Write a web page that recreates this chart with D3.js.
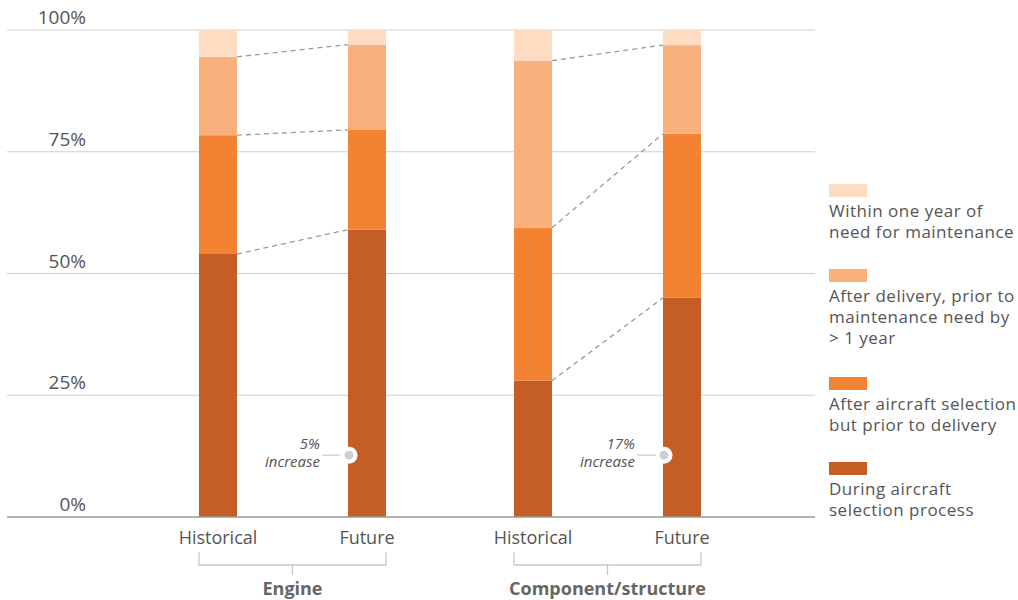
<!DOCTYPE html>
<html>
<head>
<meta charset="utf-8">
<script src="https://cdn.jsdelivr.net/npm/d3@7"></script>
<style>
  html, body { margin: 0; padding: 0; background: #fff; }
  svg { display: block; font-family: "Open Sans", "Noto Sans", sans-serif; }
</style>
</head>
<body>
<svg id="chart" width="1018" height="600"></svg>
<script>
// Timing of aftermarket purchase decisions, stacked shares (%)
const groups = ["Engine", "Component/structure"];
const periods = ["Historical", "Future"];
const seriesKeys = ["selection", "preDelivery", "afterDelivery", "withinYear"];
const seriesLabels = [
  ["During aircraft", "selection process"],
  ["After aircraft selection", "but prior to delivery"],
  ["After delivery, prior to", "maintenance need by", "> 1 year"],
  ["Within one year of", "need for maintenance"]
];
const seriesColors = ["#C45E24", "#F38233", "#F9B07D", "#FDDCC2"];

// one value per bar, in order: Engine Historical, Engine Future, Component Historical, Component Future
const selectionValues     = [54, 59, 28, 45];
const preDeliveryValues   = [24.4, 20.5, 31.4, 33.7];
const afterDeliveryValues = [16.1, 17.5, 34.3, 18.2];
const withinYearValues    = [5.5, 3.0, 6.3, 3.1];

const yTicks = [0, 25, 50, 75, 100];
const tickLabels = ["0%", "25%", "50%", "75%", "100%"];

const barRows = [];
groups.forEach((g, gi) => periods.forEach((p, pi) => {
  const i = gi * 2 + pi;
  barRows.push({
    group: g, period: p,
    selection: selectionValues[i],
    preDelivery: preDeliveryValues[i],
    afterDelivery: afterDeliveryValues[i],
    withinYear: withinYearValues[i]
  });
}));

const svg = d3.select("#chart");
const textColor = "#555";

const y = d3.scaleLinear().domain([0, 100]).range([517, 30]);
const xGroup = d3.scaleBand().domain(groups).range([135, 765]);
const xPeriod = d3.scalePoint().domain(periods).range([0, xGroup.bandwidth()]).padding(0.557);
const barW = 38;
const cx = d => xGroup(d.group) + xPeriod(d.period);

// gridlines
const gridLeft = 7, gridRight = 815;
svg.append("g").selectAll("line").data(yTicks.filter(t => t > 0)).join("line")
  .attr("x1", gridLeft).attr("x2", gridRight)
  .attr("y1", d => y(d)).attr("y2", d => y(d))
  .attr("stroke", "#cfcfcf").attr("stroke-width", 1);

// tick labels sit above their gridlines
svg.append("g").selectAll("text").data(yTicks).join("text")
  .attr("x", 86).attr("y", d => y(d) - 6)
  .attr("text-anchor", "end")
  .attr("font-size", 19).attr("fill", textColor)
  .text((d, i) => tickLabels[i]);

// stacked bars
const stack = d3.stack().keys(seriesKeys);
const stacked = stack(barRows);

svg.append("g").selectAll("g").data(stacked).join("g")
  .attr("fill", (d, i) => seriesColors[i])
  .selectAll("rect").data(d => d).join("rect")
  .attr("x", d => cx(d.data) - barW / 2)
  .attr("width", barW)
  .attr("y", d => y(d[1]))
  .attr("height", d => y(d[0]) - y(d[1]));

// dashed connectors between the segment boundaries of historical and future bars
const connectors = [];
groups.forEach(g => {
  const hi = barRows.findIndex(r => r.group === g && r.period === "Historical");
  const fi = barRows.findIndex(r => r.group === g && r.period === "Future");
  for (let s = 0; s < seriesKeys.length - 1; s++) {
    connectors.push({ h: barRows[hi], f: barRows[fi], hv: stacked[s][hi][1], fv: stacked[s][fi][1] });
  }
});
svg.append("g").selectAll("line").data(connectors).join("line")
  .attr("x1", d => cx(d.h) + barW / 2).attr("y1", d => y(d.hv))
  .attr("x2", d => cx(d.f) - barW / 2).attr("y2", d => y(d.fv))
  .attr("stroke", "#9a9a9a").attr("stroke-width", 1.3)
  .attr("stroke-dasharray", "5,4");

// baseline
svg.append("line")
  .attr("x1", gridLeft).attr("x2", gridRight)
  .attr("y1", y(0)).attr("y2", y(0))
  .attr("stroke", "#999").attr("stroke-width", 1.5);

// increase annotations on the future bars
const markerLevel = 12.7;
const annotations = groups.map(g => {
  const h = barRows.find(r => r.group === g && r.period === "Historical");
  const f = barRows.find(r => r.group === g && r.period === "Future");
  return { row: f, change: f.selection - h.selection };
});
const ann = svg.append("g").selectAll("g").data(annotations).join("g")
  .attr("transform", d => `translate(${cx(d.row) - barW / 2 + 1},${y(markerLevel)})`);
ann.append("line").attr("x1", -27).attr("x2", 0).attr("y1", 0).attr("y2", 0)
  .attr("stroke", "#cfcfcf").attr("stroke-width", 1.3);
ann.append("circle").attr("r", 8.5).attr("fill", "#fff");
ann.append("circle").attr("r", 4.5).attr("fill", "#cfcfcf");
const annText = ann.append("text")
  .attr("text-anchor", "end").attr("font-size", 15).attr("font-style", "italic")
  .attr("fill", textColor);
annText.append("tspan").attr("x", -29).attr("y", -6).text(d => `${d.change}%`);
annText.append("tspan").attr("x", -29).attr("y", 12).text("increase");

// period labels
svg.append("g").selectAll("text").data(barRows).join("text")
  .attr("x", d => cx(d)).attr("y", 544)
  .attr("text-anchor", "middle").attr("font-size", 18).attr("fill", textColor)
  .text(d => d.period);

// group brackets and group labels
const br = svg.append("g").selectAll("g").data(groups).join("g");
br.append("path")
  .attr("d", g => {
    const l = xGroup(g) + xPeriod("Historical") - barW / 2;
    const r = xGroup(g) + xPeriod("Future") + barW / 2;
    const m = (l + r) / 2;
    return `M${l},552V565H${r}V552M${m},565V575`;
  })
  .attr("fill", "none").attr("stroke", "#c8c8c8").attr("stroke-width", 1.3);
br.append("text")
  .attr("x", g => xGroup(g) + xGroup.bandwidth() / 2).attr("y", 595)
  .attr("text-anchor", "middle").attr("font-size", 18).attr("font-weight", "bold")
  .attr("fill", "#666")
  .text(g => g);

// legend, top entry is the top segment
const legendTops = [462, 377, 269, 184];
const leg = svg.append("g").selectAll("g").data(seriesKeys).join("g")
  .attr("transform", (d, i) => `translate(829,${legendTops[i]})`);
leg.append("rect").attr("width", 38).attr("height", 13)
  .attr("fill", (d, i) => seriesColors[i]);
leg.append("text").attr("font-size", 17).attr("letter-spacing", 0.5).attr("fill", textColor)
  .selectAll("tspan").data((d, i) => seriesLabels[i]).join("tspan")
  .attr("x", 0).attr("y", (d, j) => 33 + j * 21)
  .text(d => d);
</script>
</body>
</html>
